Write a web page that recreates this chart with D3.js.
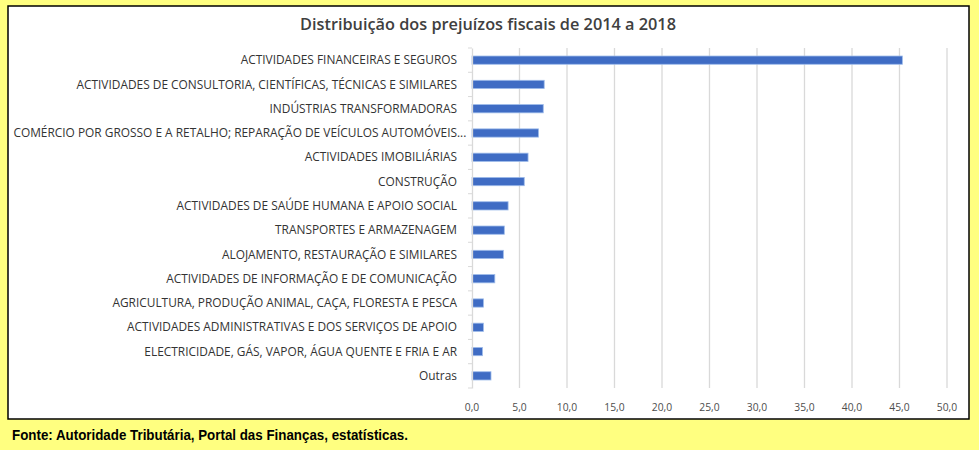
<!DOCTYPE html>
<html>
<head>
<meta charset="utf-8">
<script src="https://cdn.jsdelivr.net/npm/d3@7"></script>
<style>
  body { margin: 0; background: #ffff80; }
  svg { display: block; }
</style>
</head>
<body>
<svg id="chart" width="979" height="450"></svg>
<script>
const categories = [
  "ACTIVIDADES FINANCEIRAS E SEGUROS",
  "ACTIVIDADES DE CONSULTORIA, CIENTÍFICAS, TÉCNICAS E SIMILARES",
  "INDÚSTRIAS TRANSFORMADORAS",
  "COMÉRCIO POR GROSSO E A RETALHO; REPARAÇÃO DE VEÍCULOS AUTOMÓVEIS...",
  "ACTIVIDADES IMOBILIÁRIAS",
  "CONSTRUÇÃO",
  "ACTIVIDADES DE SAÚDE HUMANA E APOIO SOCIAL",
  "TRANSPORTES E ARMAZENAGEM",
  "ALOJAMENTO, RESTAURAÇÃO E SIMILARES",
  "ACTIVIDADES DE INFORMAÇÃO E DE COMUNICAÇÃO",
  "AGRICULTURA, PRODUÇÃO ANIMAL, CAÇA, FLORESTA E PESCA",
  "ACTIVIDADES ADMINISTRATIVAS E DOS SERVIÇOS DE APOIO",
  "ELECTRICIDADE, GÁS, VAPOR, ÁGUA QUENTE E FRIA E AR",
  "Outras"
];
const values = [45.3, 7.6, 7.5, 7.0, 5.9, 5.5, 3.8, 3.4, 3.3, 2.4, 1.2, 1.2, 1.1, 2.0];
const xTicks = [0, 5, 10, 15, 20, 25, 30, 35, 40, 45, 50];
const title = "Distribuição dos prejuízos fiscais de 2014 a 2018";
const source = "Fonte:  Autoridade Tributária, Portal das Finanças, estatísticas.";

const svg = d3.select("#chart");

// white chart panel
svg.append("rect")
    .attr("x", 8).attr("y", 6)
    .attr("width", 961).attr("height", 413)
    .attr("fill", "#fff")
    .attr("stroke", "#000")
    .attr("stroke-width", 1.5);

const plot = {left: 472, right: 947, top: 48, bottom: 388};

const x = d3.scaleLinear()
    .domain([0, 50])
    .range([plot.left, plot.right]);
const y = d3.scaleBand()
    .domain(categories)
    .range([plot.top, plot.bottom])
    .paddingInner(0.66)
    .paddingOuter(0.33);

// gridlines
svg.append("g")
    .selectAll("line")
    .data(xTicks.slice(1))
  .enter().append("line")
    .attr("x1", d => x(d)).attr("x2", d => x(d))
    .attr("y1", plot.top).attr("y2", plot.bottom)
    .attr("stroke", "#d9d9d9")
    .attr("stroke-width", 1.3);

// x tick labels
svg.append("g")
    .selectAll("text")
    .data(xTicks)
  .enter().append("text")
    .attr("x", d => x(d))
    .attr("y", 411)
    .attr("text-anchor", "middle")
    .attr("fill", "#4d4d4d")
    .style("font", "10.3px 'Open Sans', sans-serif")
    .text(d => d3.format(".1f")(d).replace(".", ","));

// bars
svg.append("g")
    .selectAll("rect")
    .data(values)
  .enter().append("rect")
    .attr("x", x(0))
    .attr("y", (d, i) => y(categories[i]))
    .attr("width", d => x(d) - x(0))
    .attr("height", y.bandwidth())
    .attr("fill", "#3f6cc4")
    .attr("stroke", "#9dbbea")
    .attr("stroke-width", 0.8);

// y axis line with category ticks
const yAxis = svg.append("g")
    .attr("transform", `translate(${plot.left},0)`)
    .call(d3.axisLeft(y).tickSize(0).tickFormat(""));
yAxis.select(".domain").attr("stroke", "#d9d9d9").attr("stroke-width", 1.3);
yAxis.selectAll(".sep")
    .data(d3.range(categories.length + 1))
  .enter().append("line")
    .attr("class", "sep")
    .attr("x1", -4).attr("x2", 0)
    .attr("y1", i => plot.top + i * y.step())
    .attr("y2", i => plot.top + i * y.step())
    .attr("stroke", "#d9d9d9");

// category labels (truncated label: ellipsis hangs past the anchor, like Excel)
const labels = svg.append("g")
    .selectAll("g")
    .data(categories)
  .enter().append("g")
    .attr("transform", d => `translate(457,${y(d) + y.bandwidth() / 2})`)
    .attr("fill", "#333")
    .style("font", "11.9px 'Open Sans', sans-serif");
labels.append("text")
    .attr("dy", "0.35em")
    .attr("text-anchor", "end")
    .text(d => d.replace(/\.\.\.$/, ""));
labels.filter(d => d.endsWith("..."))
  .append("text")
    .attr("dy", "0.35em")
    .text("...");

// title
svg.append("text")
    .attr("x", 488).attr("y", 30)
    .attr("text-anchor", "middle")
    .attr("fill", "#404040")
    .style("font", "600 16.3px 'Open Sans', sans-serif")
    .text(title);

// source note
svg.append("text")
    .attr("x", 12).attr("y", 440)
    .attr("fill", "#000")
    .attr("textLength", 396)
    .attr("lengthAdjust", "spacingAndGlyphs")
    .style("font", "bold 14px 'Liberation Sans', Arial, sans-serif")
    .text(source);
</script>
</body>
</html>
